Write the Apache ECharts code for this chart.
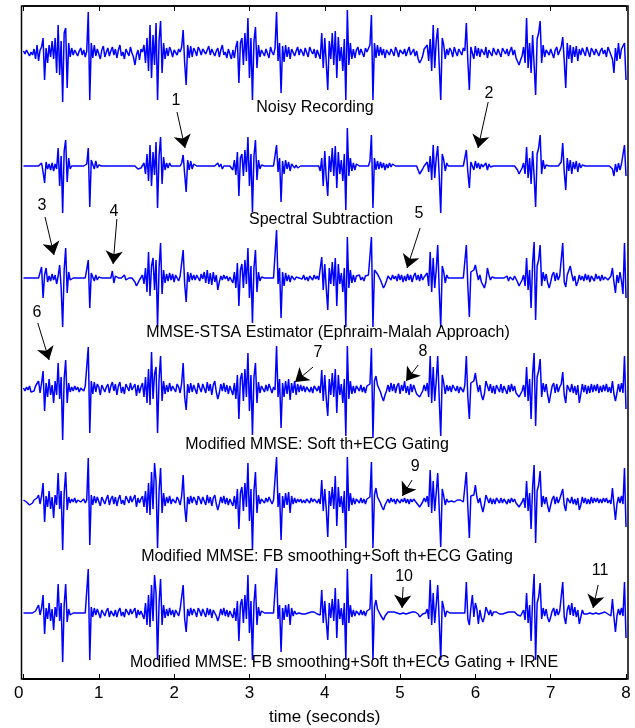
<!DOCTYPE html>
<html>
<head>
<meta charset="utf-8">
<script src="https://cdn.jsdelivr.net/npm/echarts/dist/echarts.min.js"></script>
<style>html,body{margin:0;padding:0;background:#fff}#chart{width:635px;height:728px}</style>
</head>
<body>
<div id="chart"></div>
<script>
// ---------------- DATA ----------------
const DT = 0.02; // sample spacing, seconds
const xTicks = [0, 1, 2, 3, 4, 5, 6, 7, 8];
const traceNames = [
  'Noisy Recording',
  'Spectral Subtraction',
  'MMSE-STSA Estimator (Ephraim-Malah Approach)',
  'Modified MMSE: Soft th+ECG Gating',
  'Modified MMSE: FB smoothing+Soft th+ECG Gating',
  'Modified MMSE: FB smoothing+Soft th+ECG Gating + IRNE'
];
const noisyRecording = [
2,-1,3,0,-3,1,-2,4,-6,8,-8,3,6,15,-27,5,-10,8,-4,12,
-6,15,-20,28,-22,12,-49,20,25,-35,10,-4,5,-2,3,4,-3,2,5,-2,
3,-4,2,41,-47,10,-5,8,-3,4,2,-6,3,7,-4,1,5,-3,2,6,
-2,4,-5,3,8,-3,1,-6,4,2,-3,6,0,-4,-12,-2,3,-7,4,1,
8,-10,15,-18,28,-25,18,-12,30,-47,12,32,-20,10,-6,5,-3,6,2,-4,
3,5,-2,4,1,6,23,-10,-32,8,-5,7,-4,5,2,-3,6,3,-2,4,
5,-1,3,7,-2,4,6,-3,2,5,-4,3,8,-2,1,-5,4,2,-6,3,
-5,6,12,-30,10,15,-12,20,-8,35,-25,15,-47,12,26,-15,8,-4,3,5,
-3,4,2,-5,6,1,-2,5,41,-8,10,-40,7,-9,8,-4,6,-6,4,5,
-3,2,6,-2,4,1,-3,5,3,-4,6,2,-1,4,-5,3,2,-6,20,-15,
15,-10,-37,12,-6,20,-12,22,-25,16,-8,6,-18,14,-47,43,-12,10,-6,4,
-5,3,6,-2,4,2,-4,5,1,3,8,38,-47,10,-5,8,-3,6,-2,4,
-5,3,5,-2,4,1,-3,6,2,-4,3,5,-1,4,-3,2,6,-2,1,4,
-3,2,-6,-10,-7,-3,4,2,8,-8,14,-18,28,-15,12,25,-12,-47,15,8,
-6,4,-2,5,2,-4,6,1,-3,4,3,-2,5,2,30,-8,-37,6,4,-6,
7,-3,5,-4,4,1,-2,6,-5,3,2,-3,5,1,-2,4,3,-4,5,2,
-1,4,-3,2,6,-2,3,-5,-6,-12,-7,-3,6,-10,35,-15,10,-20,18,-12,
-42,14,20,32,-10,8,-4,3,5,-2,4,2,-5,3,6,-2,2,6,16,-8,
-35,10,-6,8,-10,6,-4,7,-8,4,-2,5,3,-3,6,1,-4,5,2,-2,
4,6,-3,2,5,-1,3,-4,6,2,-2,-6,-20,5,-8,10,-6,4,2,10,
-27];
const spectralSubtraction = [
0,0,0,0,0,0,0,0,0,0,0,0,3,-6,-17,4,-3,2,-4,3,
-5,2,-3,18,-20,10,-47,15,26,-16,8,-3,0,0,0,0,0,0,0,0,
0,0,2,18,-41,6,4,-3,5,-2,1,0,0,0,0,0,0,0,0,0,
0,0,0,0,0,0,0,0,0,0,0,0,0,0,0,0,-3,-5,-2,0,
3,-8,12,-15,21,-20,14,-9,24,-42,10,29,-18,9,-4,3,-2,3,0,0,
0,0,0,0,0,3,11,-8,-26,6,-4,5,-3,2,0,0,0,0,0,0,
0,0,0,0,0,0,0,0,-2,3,-1,2,-3,0,0,0,0,0,0,-4,
6,-9,14,-30,8,12,-10,16,-6,29,-20,12,-46,10,26,-14,6,-3,1,0,
0,0,0,0,0,0,0,0,21,-6,8,-36,5,-8,6,-3,4,-5,2,3,
-2,1,-2,0,0,0,0,0,0,0,0,0,0,0,0,0,0,-5,8,-20,
15,-12,-30,10,-6,18,-10,20,-22,14,-8,6,-15,12,-44,38,-10,8,-5,3,
-4,2,0,0,0,0,0,0,0,0,5,31,-42,8,-4,5,-3,4,-2,3,
-4,2,-2,3,-1,2,0,0,0,0,0,0,0,0,0,0,0,0,0,0,
0,0,-4,-8,-6,-3,0,0,4,-6,10,-14,21,-12,8,20,-10,-47,12,6,
-5,3,0,0,0,0,0,0,0,0,0,0,0,0,16,-6,-22,4,3,-4,
5,-2,3,-3,2,-1,0,3,-4,2,-1,0,0,0,0,0,0,0,0,0,
0,0,0,0,0,0,0,0,-4,-8,-5,-2,3,-8,19,-12,8,-18,15,-10,
-41,12,18,31,-8,6,-3,1,0,0,0,0,0,0,0,0,0,4,23,-6,
-24,8,-5,6,-8,4,-3,5,-6,3,-2,1,0,0,0,0,0,0,0,0,
0,0,0,0,0,0,0,0,0,0,0,-3,-10,2,-6,3,-4,2,0,21,
-10];
const mmseStsa = [
0,0,0,0,0,0,0,0,0,0,0,0,11,-20,3,10,-4,2,-3,4,
-2,3,-6,2,13,-10,-49,8,30,-15,6,-2,0,0,0,0,0,0,0,0,
0,0,2,18,-30,5,4,-3,3,-2,1,0,0,0,0,0,0,0,0,7,
-5,2,0,0,0,0,0,3,-2,0,0,0,0,0,-4,-8,-5,-2,0,3,
-6,10,-14,26,-18,12,20,-12,18,-49,10,35,-16,8,-5,4,-3,5,-2,4,
-4,3,1,-3,2,4,28,-6,-24,6,-4,5,-2,3,-2,3,1,-3,4,-1,
6,-5,8,-6,5,-7,6,-4,3,-12,-4,2,-2,3,-1,2,-3,1,0,-5,
6,-10,15,-28,8,14,-10,18,-6,30,-20,12,-45,10,28,-14,6,-3,1,0,
0,0,0,0,0,0,0,0,48,-6,10,-40,6,-8,5,-3,3,-4,2,2,
-2,1,-1,0,2,-1,3,-2,1,-3,2,0,-2,3,-1,2,-2,-3,21,-12,
14,-10,-32,10,-6,16,-8,20,-28,14,-6,5,-14,10,-49,41,-10,8,-5,3,
-4,2,0,3,-2,1,-3,2,0,3,5,41,-49,8,10,4,6,-2,-6,-10,
-7,-3,2,4,-2,3,-1,2,-3,4,-2,3,-4,2,-3,4,-2,3,-4,2,
5,-2,3,-3,4,-2,1,0,5,-8,26,-14,20,-10,8,33,-12,-49,12,6,
-5,3,0,0,0,0,0,0,0,0,0,0,0,0,33,-8,-39,6,4,8,
13,5,-2,3,-4,-6,-10,-4,10,3,-2,1,0,0,0,0,0,0,0,0,
0,2,-3,1,3,-2,2,-1,-4,-8,-5,-2,3,-8,20,-12,8,-30,15,36,
-42,12,18,33,-8,6,-3,4,-5,-10,-4,3,6,-3,5,-2,2,4,35,-4,
-9,3,5,12,4,-3,2,-8,-4,3,-2,2,-3,4,-2,3,-4,2,1,-3,
4,-1,2,-3,3,-2,1,2,-2,0,2,10,-4,-15,3,-5,6,-3,-16,35,
-20];
const softThGating = [
1,-2,2,-1,3,-3,-5,-2,3,5,8,-4,6,18,-22,6,-8,10,-6,4,
-14,8,-6,26,-10,12,-51,10,29,-14,6,-3,2,-2,3,-1,2,-3,1,2,
-2,3,2,42,-44,8,-5,7,-3,5,2,-6,4,6,-3,2,5,-4,3,7,
-2,5,-6,3,7,-4,2,-5,5,3,-2,6,-1,-3,5,-7,4,-4,2,6,
-8,12,-14,20,-16,37,-10,15,22,-44,10,33,-12,8,-5,4,-3,6,-2,3,
4,-3,5,2,-4,6,26,-8,-21,5,-4,6,-3,4,2,-5,6,1,-3,5,
3,-4,7,-2,5,-6,4,8,-3,-10,-4,5,-2,6,-3,4,-5,3,2,-6,
6,-10,14,-30,10,16,-12,20,-8,36,-22,14,-46,12,26,-14,7,-4,3,5,
-3,4,-2,5,3,-4,2,-1,43,-8,10,-39,6,-8,8,-5,10,-11,6,-4,
8,-6,5,-3,4,-2,3,-3,2,4,-3,2,-4,3,1,-2,3,-4,19,-12,
14,-10,-27,10,-6,16,-8,20,-24,14,-6,5,-14,10,-47,43,-10,8,-5,3,
-4,3,5,-2,4,-3,2,-4,3,2,5,41,-49,8,13,4,6,-3,-8,-12,
-6,-2,4,-3,6,-2,5,-4,3,6,-5,4,-2,8,-4,3,-6,5,-3,4,
6,-5,-3,-8,-6,-2,4,-2,6,-8,33,-14,22,-12,8,33,-10,-47,14,6,
-5,4,-2,3,-3,4,1,-2,3,-4,2,3,-3,4,33,-8,-30,6,4,8,
16,5,-3,4,-6,-11,-5,8,3,-2,5,-4,3,-5,4,2,-3,5,-4,3,
2,-5,4,-3,5,-2,3,-4,-4,-8,-6,-2,4,-8,22,-12,10,-30,15,36,
-37,12,18,30,-8,6,-3,5,-6,-14,-5,3,6,-4,5,-3,2,5,17,-6,
-14,4,6,-3,5,-4,3,-6,4,-14,-5,5,-3,4,-5,3,-4,5,-3,4,
-2,5,-4,3,-3,4,-2,5,-3,2,-4,8,-5,-12,-4,5,-3,6,-4,33,
-20];
const fbSmoothing = [
1,0,-1,1,-4,-3,-2,1,2,3,6,-3,5,18,-21,5,-6,10,-8,4,
-17,6,-4,28,-8,10,-49,8,29,-9,4,-2,2,-1,3,-2,1,2,-1,0,
2,-2,1,43,-44,6,-4,5,-2,4,3,-5,4,5,-3,2,6,-4,2,5,
-3,4,-5,2,6,-3,1,-4,5,3,-2,5,-1,-3,6,-6,3,-2,2,5,
-6,10,-12,18,-14,29,-8,38,20,-47,10,33,-12,8,-5,4,-2,5,-3,2,
3,-2,4,1,-4,5,26,-6,-21,4,-3,5,-2,4,1,-4,5,2,-3,4,
2,-4,6,-2,4,-5,3,6,-3,-9,-3,4,-2,5,-3,3,-4,2,1,-5,
5,-8,12,-28,8,14,-10,18,-6,38,-20,12,-49,10,29,-12,6,-3,2,3,
-2,3,-1,4,2,-3,1,-1,44,-6,8,-39,5,-7,8,-4,9,-12,5,-3,
3,-2,2,-1,2,-2,1,-2,2,1,-2,3,-1,2,1,-2,2,-3,21,-10,
12,-8,-36,10,-5,14,-8,25,-25,14,-6,5,-12,10,-47,44,-10,8,-4,3,
-3,2,4,-2,3,-2,2,-3,2,1,4,39,-47,6,13,4,5,-2,-6,-9,
-4,-1,2,-2,3,-1,2,-3,2,3,-2,2,-1,3,-2,2,-3,2,-1,2,
3,-2,-2,-6,-4,-1,3,-1,5,-6,31,-12,20,-10,8,28,-8,-46,12,5,
-4,2,-1,1,0,1,-1,0,1,-1,1,0,-1,1,29,-6,-37,5,4,6,
16,4,-2,3,-5,-11,-4,6,2,-2,3,-3,2,-3,3,1,-2,3,-2,2,
1,-3,2,-2,3,-1,2,-2,-3,-6,-4,-1,3,-7,20,-10,8,-28,14,36,
-42,10,16,30,-6,5,-3,4,-5,-11,-4,2,5,-3,4,-2,2,4,12,-4,
-10,3,5,-2,4,-3,2,-4,3,-9,-4,4,-2,3,-3,2,-3,4,-2,3,
-1,3,-2,2,-2,3,-1,3,-2,1,-3,13,-4,-19,-3,4,-2,5,-3,33,
-26];
const irne = [
0,0,0,0,0,0,0,0,2,3,8,-2,5,18,-21,5,-6,10,-8,4,
-17,6,-4,29,-8,10,-49,8,29,-9,4,-2,0,0,0,0,0,0,0,0,
0,0,1,44,-47,6,-4,5,-2,4,3,-5,3,4,-3,2,5,-4,2,4,
-3,3,-4,2,5,-3,1,-4,4,3,-2,4,-1,-3,5,-5,3,-2,2,4,
-6,10,-12,18,-14,28,-8,38,20,-47,10,34,-12,8,-5,4,-3,5,-2,3,
-4,3,2,-3,4,5,28,-6,-19,4,-3,5,-2,4,1,-4,5,2,-3,4,
2,-4,5,-2,4,-5,3,5,-3,-8,-3,4,-2,5,-3,3,-4,2,1,-5,
5,-8,12,-28,8,14,-10,18,-6,38,-20,12,-47,10,29,-12,6,-3,2,0,
0,0,0,0,0,0,0,0,45,-6,8,-39,5,-7,8,-4,9,-12,5,-3,
2,-1,1,0,1,-1,1,-1,1,0,-1,1,0,1,0,-1,1,-2,23,-10,
12,-8,-27,10,-5,14,-8,25,-25,14,-6,5,-12,10,-47,44,-10,8,-4,3,
-3,2,4,-2,3,-2,2,-3,2,1,4,39,-47,6,13,4,5,-2,-4,-7,
-3,-1,1,-1,1,0,1,-1,0,1,-1,1,0,1,-1,1,0,-1,1,0,
1,-1,-1,-4,-3,-1,0,0,4,-6,33,-12,20,-10,8,28,-8,-47,12,5,
-4,2,0,0,0,0,0,0,0,0,0,0,0,0,31,-6,-12,5,18,-4,
10,4,-11,3,-5,-9,-4,6,2,-2,3,-3,1,-1,1,0,-1,1,-1,1,
0,-1,1,-1,1,0,1,-1,-2,-4,-3,-1,3,-7,20,-10,8,-28,14,39,
-47,10,16,30,-6,5,-3,4,-5,-9,-4,2,5,-3,4,-2,2,4,31,-4,
-11,3,8,-2,10,-3,6,-4,3,-11,-4,3,-1,1,-1,1,0,1,-1,1,
0,1,-1,1,0,-1,1,0,-1,1,-3,14,-4,-19,-3,4,-2,5,-3,31,
-25];
const traces = [noisyRecording, spectralSubtraction, mmseStsa, softThGating, fbSmoothing, irne];

// ---------------- LAYOUT ----------------
const W = 635, H = 728;
const PLOT = { left: 23.5, right: 626, top: 6, bottom: 679 };
const FRAME = { left: 21.5, right: 628, top: 6, bottom: 679 };
const baselines = [53, 166, 278, 389, 501, 613];           // pixel row of each trace's zero
const nameCenters = [[315,108],[321,220],[328,333],[317,445],[327,557],[344,663]];
// annotation arrows, in [time, trace-units] of the trace they point at
const annotations = [
  { n: '1',  trace: 1, text: [2.025, 65], tail: [2.038, 54], head: [2.145, 18] },
  { n: '2',  trace: 1, text: [6.18, 72],  tail: [6.17, 64],  head: [6.035, 18] },
  { n: '3',  trace: 2, text: [0.246, 72], tail: [0.286, 61], head: [0.405, 23] },
  { n: '4',  trace: 2, text: [1.20, 66],  tail: [1.24, 59],  head: [1.19, 14] },
  { n: '5',  trace: 2, text: [5.25, 64],  tail: [5.266, 50], head: [5.093, 10] },
  { n: '6',  trace: 3, text: [0.18, 76],  tail: [0.19, 66],  head: [0.34, 29] },
  { n: '7',  trace: 3, text: [3.91, 36],  tail: [3.845, 22], head: [3.606, 7] },
  { n: '8',  trace: 3, text: [5.305, 37], tail: [5.24, 24],  head: [5.08, 8] },
  { n: '9',  trace: 4, text: [5.20, 34],  tail: [5.16, 21],  head: [5.03, 5] },
  { n: '10', trace: 5, text: [5.053, 36], tail: [5.04, 26],  head: [5.026, 5] },
  { n: '11', trace: 5, text: [7.656, 42], tail: [7.63, 28],  head: [7.563, 5] }
];
const FONT = '"Liberation Sans", Arial, Helvetica, sans-serif';

// ---------------- CHART ----------------
const chart = echarts.init(document.getElementById('chart'), null, { renderer: 'canvas' });

const yAxes = baselines.map(b => ({
  type: 'value', show: false, gridIndex: 0,
  min: -(PLOT.bottom - b), max: b - PLOT.top,
  splitLine: { show: false }
}));

const series = traces.map((vals, k) => {
  const notes = annotations.filter(a => a.trace === k);
  return {
    type: 'line',
    name: traceNames[k],
    xAxisIndex: 0,
    yAxisIndex: k,
    data: vals.map((v, i) => [i * DT, v]),
    symbol: 'none',
    showSymbol: false,
    silent: true,
    animation: false,
    clip: false,
    lineStyle: { color: '#0000ff', width: 1.5 },
    markLine: notes.length ? {
      silent: true, animation: false,
      symbol: ['none', 'arrow'], symbolSize: 13,
      lineStyle: { color: '#000', width: 1, type: 'solid' },
      label: { show: false },
      emphasis: { disabled: true },
      data: notes.map(a => [{ coord: a.tail }, { coord: a.head }])
    } : undefined,
    markPoint: notes.length ? {
      silent: true, animation: false,
      symbol: 'rect', symbolSize: 1,
      itemStyle: { color: 'rgba(0,0,0,0)' },
      label: { show: true, position: 'inside', color: '#000', fontSize: 16, fontFamily: FONT },
      data: notes.map(a => ({ coord: a.text, value: a.n, label: { formatter: a.n } }))
    } : undefined
  };
});

const axisCommon = {
  type: 'value', min: xTicks[0], max: xTicks[xTicks.length - 1], interval: 1,
  splitLine: { show: false },
  axisLine: { show: true, onZero: false, lineStyle: { color: '#000', width: 1.5 } },
  axisTick: { show: true, inside: true, length: 5, lineStyle: { color: '#000', width: 1 } }
};

chart.setOption({
  animation: false,
  backgroundColor: '#fff',
  grid: { left: PLOT.left, right: W - PLOT.right, top: PLOT.top, bottom: H - PLOT.bottom,
          containLabel: false, outerBoundsMode: 'none' },
  xAxis: [
    Object.assign({}, axisCommon, {
      position: 'bottom',
      axisLine: { show: true, onZero: false, lineStyle: { color: '#000', width: 2 } },
      axisLabel: { show: true, color: '#000', fontSize: 17, fontFamily: FONT, margin: 6,
                   alignMinLabel: 'right',
                   formatter: v => xTicks.indexOf(v) >= 0 ? String(v) : '' },
      name: 'time (seconds)', nameLocation: 'middle', nameGap: 30,
      nameTextStyle: { color: '#000', fontSize: 17, fontFamily: FONT }
    }),
    Object.assign({}, axisCommon, { position: 'top', axisLabel: { show: false } })
  ],
  yAxis: yAxes,
  series: series,
  graphic: [
    {
      type: 'rect', silent: true, z: 100,
      shape: { x: FRAME.left, y: FRAME.top, width: FRAME.right - FRAME.left, height: FRAME.bottom - FRAME.top },
      style: { fill: 'none', stroke: '#000', lineWidth: 1.5 }
    }
  ].concat(traceNames.map((t, k) => ({
    type: 'text', silent: true, z: 101,
    x: nameCenters[k][0], y: nameCenters[k][1],
    style: { text: t, fill: '#000', font: '16px ' + FONT, textAlign: 'center', textVerticalAlign: 'middle' }
  })))
});
</script>
</body>
</html>
